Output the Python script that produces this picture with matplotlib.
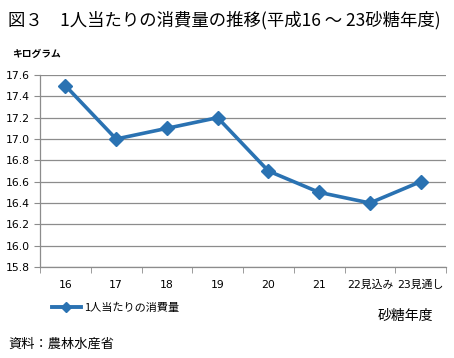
import matplotlib
matplotlib.use("Agg")
import matplotlib.pyplot as plt
from matplotlib.lines import Line2D

plt.rcParams['font.family'] = ['Noto Sans CJK JP', 'DejaVu Sans']

years = ["16", "17", "18", "19", "20", "21", "22見込み", "23見通し"]
consumption = [17.5, 17.0, 17.1, 17.2, 16.7, 16.5, 16.4, 16.6]
y_ticks = [15.8, 16.0, 16.2, 16.4, 16.6, 16.8, 17.0, 17.2, 17.4, 17.6]

blue = "#2a72b2"
grid_gray = "#8c8c8c"
tick_font = ['DejaVu Sans', 'Noto Sans CJK JP']

fig = plt.figure(figsize=(4.54, 3.58), dpi=100)
ax = fig.add_axes([40 / 454, 1 - 267 / 358, 406 / 454, 192 / 358])

x = list(range(len(years)))
ax.plot(x, consumption, color=blue, linewidth=2.6, marker="D", markersize=7,
        markerfacecolor=blue, markeredgecolor=blue)

ax.set_xlim(-0.5, len(years) - 0.5)
ax.set_ylim(15.8, 17.6)
ax.set_yticks(y_ticks)
ax.set_yticklabels([f"{v:.1f}" for v in y_ticks], fontsize=7.8, family=tick_font)
ax.set_xticks(x)
ax.set_xticklabels(years, fontsize=7.8, family=tick_font)
ax.set_xticks([i - 0.5 for i in range(len(years) + 1)], minor=True)
ax.tick_params(axis="x", which="major", length=0, pad=9)
ax.tick_params(axis="x", which="minor", length=4, color=grid_gray, direction="out")
ax.tick_params(axis="y", length=4, color=grid_gray, direction="out", pad=3)

ax.yaxis.grid(True, color=grid_gray, linewidth=0.9)
ax.set_axisbelow(True)
for side in ["top", "right"]:
    ax.spines[side].set_visible(False)
for side in ["left", "bottom"]:
    ax.spines[side].set_color(grid_gray)
    ax.spines[side].set_linewidth(0.9)

fig.text(8 / 454, 1 - 20 / 358, "図３　1人当たりの消費量の推移(平成16 ～ 23砂糖年度)",
         fontsize=12.5, va="center", ha="left")
fig.text(12 / 454, 1 - 54 / 358, "キログラム", fontsize=7, va="center", ha="left",
         fontweight="bold")

handle = Line2D([], [], color=blue, linewidth=2.8, marker="D", markersize=5)
fig.legend([handle], ["1人当たりの消費量"], loc="center left",
           bbox_to_anchor=(42 / 454, 1 - 308 / 358), frameon=False,
           fontsize=8, handlelength=2.6, handletextpad=0.3)

fig.text(433 / 454, 1 - 316 / 358, "砂糖年度", fontsize=10, va="center", ha="right")
fig.text(8 / 454, 1 - 344 / 358, "資料：農林水産省", fontsize=9.5, va="center", ha="left")

fig.savefig("out.png", dpi=100)
